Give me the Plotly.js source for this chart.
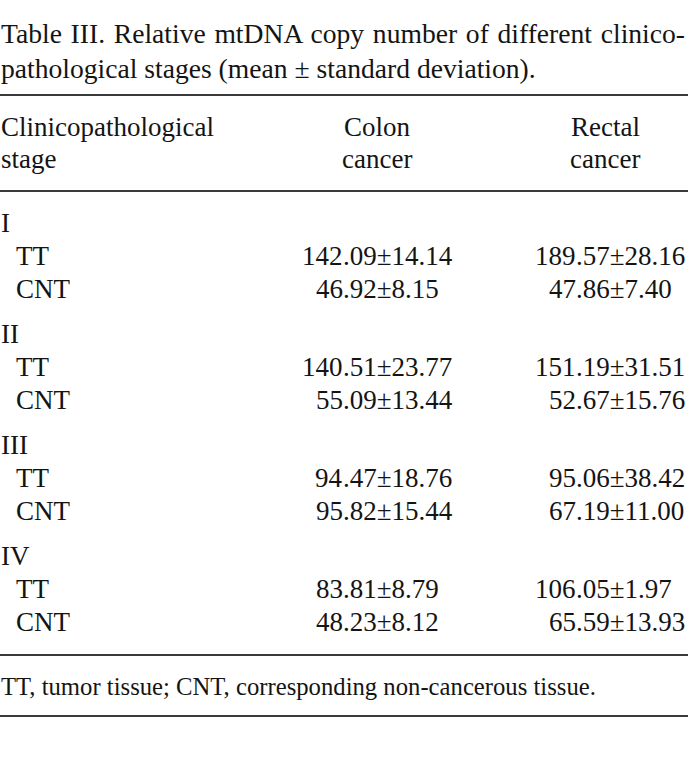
<!DOCTYPE html>
<html>
<head>
<meta charset="utf-8">
<script src="https://cdn.plot.ly/plotly-3.0.1.min.js"></script>
<style>
html,body{margin:0;padding:0;background:#fff;}
#chart{width:688px;height:768px;}
</style>
</head>
<body>
<div id="chart"></div>
<script>
// ---- data ----
const titleLines = ['Table III. Relative mtDNA copy number of different clinico-',
                    'pathological stages (mean \u00b1 standard deviation).'];
const headerStage = ['Clinicopathological', 'stage'];
const headerColon = ['Colon', 'cancer'];
const headerRectal = ['Rectal', 'cancer'];
const stages = ['I', 'II', 'III', 'IV'];
const groups = ['TT', 'CNT'];
const colonMean = [142.09, 46.92, 140.51, 55.09, 94.47, 95.82, 83.81, 48.23];
const colonSD   = [14.14, 8.15, 23.77, 13.44, 18.76, 15.44, 8.79, 8.12];
const rectalMean = [189.57, 47.86, 151.19, 52.67, 95.06, 67.19, 106.05, 65.59];
const rectalSD   = [28.16, 7.40, 31.51, 15.76, 38.42, 11.00, 1.97, 13.93];
const footnote = 'TT, tumor tissue; CNT, corresponding non-cancerous tissue.';

// ---- layout helpers ----
const FONT = '"Liberation Serif"';
const TXT = '#141414';
const FS = 27;
const ann = [];
function addText(x, y, text, xanchor, size) {
  ann.push({x: x, y: y, xref: 'x', yref: 'y', text: text, showarrow: false,
    xanchor: xanchor, align: xanchor === 'center' ? 'center' : xanchor,
    yanchor: 'middle', borderpad: 0, borderwidth: 0,
    font: {family: FONT, size: size || FS, color: TXT}});
}
function addValue(decX, y, mean, sd) {
  const s = mean.toFixed(2) + '\u00b1' + sd.toFixed(2);
  const i = s.indexOf('.');
  addText(decX, y, s.slice(0, i), 'right');
  addText(decX, y, s.slice(i), 'left');
}

const LEFT = 1;
// title
addText(LEFT, 33, titleLines[0], 'left', 27.6);
addText(LEFT, 68, titleLines[1], 'left', 27.6);
// header
addText(LEFT, 127, headerStage[0], 'left');
addText(LEFT, 159, headerStage[1], 'left');
addText(377, 127, headerColon[0], 'center');
addText(377, 159, headerColon[1], 'center');
addText(605, 127, headerRectal[0], 'center');
addText(605, 159, headerRectal[1], 'center');
// body
const COLON_DEC = 343, RECTAL_DEC = 576;
stages.forEach((st, k) => {
  const y0 = 223 + k * 111;
  addText(LEFT, y0, st, 'left');
  groups.forEach((g, j) => {
    const y = y0 + 33 + j * 33;
    const idx = k * 2 + j;
    addText(16, y, g, 'left');
    addValue(COLON_DEC, y, colonMean[idx], colonSD[idx]);
    addValue(RECTAL_DEC, y, rectalMean[idx], rectalSD[idx]);
  });
});
// footnote
addText(LEFT, 686, footnote, 'left', 24.7);

// rules
const LINE = {color: '#3a3a3a', width: 2};
const shapes = [95, 191, 655, 716].map(y => ({type: 'line', xref: 'paper', yref: 'y',
  x0: 0, x1: 1, y0: y, y1: y, line: LINE}));

const layout = {
  width: 688, height: 768,
  margin: {l: 0, r: 0, t: 0, b: 0, pad: 0},
  paper_bgcolor: '#ffffff', plot_bgcolor: '#ffffff',
  font: {family: FONT},
  showlegend: false,
  xaxis: {range: [0, 688], visible: false, fixedrange: true},
  yaxis: {range: [768, 0], visible: false, fixedrange: true},
  annotations: ann,
  shapes: shapes
};
const data = [{type: 'scatter', x: [], y: [], mode: 'markers', hoverinfo: 'skip'}];
Plotly.newPlot('chart', data, layout, {staticPlot: true, displayModeBar: false}).then(gd => {
  // justify the first title line across the full width (as in the printed table)
  const t = gd.querySelector('.annotation[data-index="0"] text.annotation-text');
  if (t && t.getComputedTextLength) {
    const len = t.getComputedTextLength();
    const gaps = (titleLines[0].match(/ /g) || []).length;
    const extra = (684 - len) / gaps;
    if (extra > 0 && extra < 6) t.style.wordSpacing = extra + 'px';
  }
});
</script>
</body>
</html>
